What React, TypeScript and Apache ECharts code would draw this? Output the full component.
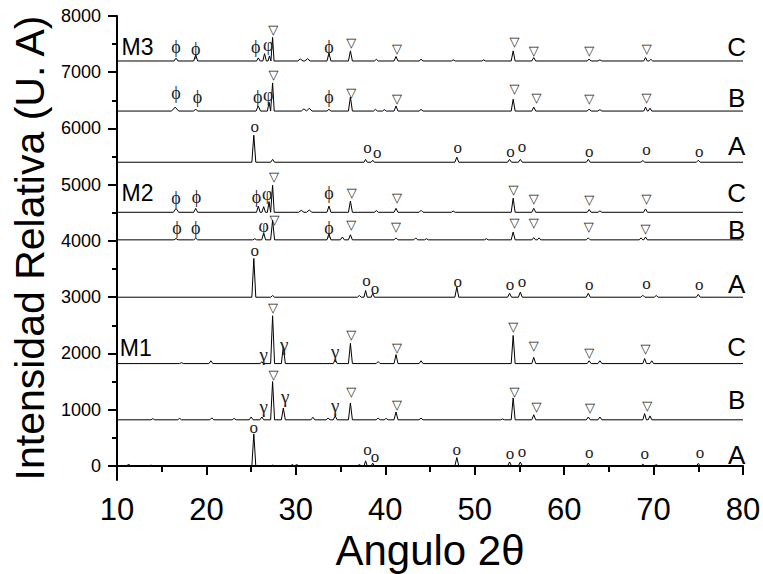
import React, { useEffect, useRef } from "react";
import * as echarts from "echarts";

// ---- axis ticks ----
const yTickValues = [0, 1000, 2000, 3000, 4000, 5000, 6000, 7000, 8000];
const yMinorValues = [500, 1500, 2500, 3500, 4500, 5500, 6500, 7500];

// ---- diffractograms: baseline + peaks [2θ, height above baseline, half width?] ----
type Peak = [number, number] | [number, number, number];

const m1A_base = 0;
const m1A_peaks: Peak[] = [
  [11.3, 35], [13.8, 15], [25.3, 570], [27.4, 15], [29.6, 25], [30.1, 25], [37.1, 25],
  [37.8, 90, 0.18], [38.6, 50, 0.18], [48.0, 150], [53.9, 70], [55.1, 70], [62.7, 50],
  [68.8, 30], [70.3, 25], [75.0, 45],
];

const m1B_base = 820;
const m1B_peaks: Peak[] = [
  [14.0, 20], [17.0, 25], [20.6, 35], [23.1, 25], [25.0, 50], [26.2, 50], [27.4, 680],
  [28.6, 210], [31.9, 45], [33.6, 30], [34.4, 70], [36.1, 300], [39.2, 30], [40.1, 25],
  [41.2, 140], [44.0, 30], [53.1, 15], [54.3, 390], [56.6, 90], [62.7, 50], [64.0, 50],
  [69.0, 110, 0.2], [69.6, 70, 0.2],
];

const m1C_base = 1820;
const m1C_peaks: Peak[] = [
  [17.2, 15], [20.5, 50], [26.2, 30], [27.4, 850], [28.6, 300], [34.4, 70], [36.1, 360],
  [39.2, 35], [41.2, 160], [44.0, 50], [54.3, 500], [56.6, 110], [62.8, 50], [64.0, 50],
  [69.0, 90, 0.2], [69.8, 50, 0.2],
];

const m2A_base = 3000;
const m2A_peaks: Peak[] = [
  [25.3, 690], [27.4, 30], [37.1, 30], [37.8, 120, 0.18], [38.6, 70, 0.18], [48.0, 180],
  [53.9, 70], [55.1, 90], [62.7, 70], [68.8, 35], [70.3, 30], [75.0, 50],
];

const m2B_base = 4020;
const m2B_peaks: Peak[] = [
  [16.6, 25], [18.8, 30], [25.4, 20], [26.4, 120], [27.4, 350], [33.7, 110], [35.2, 50],
  [36.1, 90], [41.2, 35], [43.4, 35], [44.6, 20], [51.3, 20], [54.3, 140], [56.6, 40, 0.2],
  [57.2, 35, 0.2], [62.7, 35], [68.6, 35, 0.2], [69.1, 50, 0.2],
];

const m2C_base = 4510;
const m2C_peaks: Peak[] = [
  [16.6, 70, 0.3], [18.8, 70], [25.8, 110, 0.2], [26.4, 100, 0.2], [27.0, 190, 0.18],
  [27.4, 480, 0.18], [30.6, 35, 0.3], [31.5, 40, 0.3], [33.7, 110], [36.1, 200], [39.0, 30],
  [41.2, 70], [44.0, 35], [47.6, 20], [54.3, 250], [56.6, 70], [62.8, 50], [64.0, 25],
  [69.1, 60],
];

const m3A_base = 5400;
const m3A_peaks: Peak[] = [
  [25.3, 480], [27.4, 50], [37.8, 50, 0.18], [38.6, 35, 0.18], [48.0, 90], [53.9, 50],
  [55.1, 50], [62.7, 50], [68.8, 30], [75.0, 35],
];

const m3B_base = 6310;
const m3B_peaks: Peak[] = [
  [16.5, 70, 0.4], [18.8, 35], [25.8, 90, 0.25], [27.0, 160, 0.18], [27.4, 500, 0.18],
  [30.9, 40, 0.3], [31.5, 50, 0.3], [33.7, 30], [36.1, 250], [38.9, 30], [39.9, 25],
  [41.2, 90], [44.0, 30], [54.3, 210], [56.6, 70], [62.8, 35], [64.0, 25], [69.1, 70, 0.2],
  [69.6, 50, 0.2],
];

const m3C_base = 7200;
const m3C_peaks: Peak[] = [
  [16.6, 50], [18.8, 110], [25.8, 55, 0.2], [26.5, 130, 0.2], [27.05, 90, 0.16],
  [27.4, 420, 0.16], [30.5, 35, 0.3], [31.3, 40, 0.3], [33.7, 140], [36.1, 180], [39.0, 30],
  [41.2, 80], [44.0, 30], [47.6, 20], [51.0, 20], [54.3, 180], [56.6, 60], [62.8, 35],
  [64.0, 20], [69.1, 60, 0.2], [69.7, 30, 0.2],
];

// ---- phase markers [2θ, intensity position] ----
const anataseMarks: [number, number][] = [
  [25.4, 6027], [38.0, 5654], [39.1, 5570], [48.1, 5654], [54.0, 5583], [55.3, 5672],
  [62.8, 5583], [69.2, 5618], [75.1, 5583],
  [25.4, 3823], [37.9, 3300], [38.85, 3150], [48.1, 3272], [53.95, 3218], [55.3, 3272],
  [62.8, 3218], [69.2, 3236], [75.1, 3218],
  [25.3, 676], [38.0, 284], [38.85, 160], [48.0, 284], [53.95, 213], [55.3, 249],
  [62.8, 231], [69.0, 213], [75.2, 231],
];

const rutileMarks: [number, number][] = [
  [27.48, 7752], [36.2, 7520], [41.3, 7414], [54.45, 7539], [56.6, 7379], [62.8, 7379], [69.25, 7414],
  [27.5, 6952], [36.2, 6632], [41.3, 6525], [54.45, 6703], [56.9, 6543], [62.8, 6525], [69.2, 6543],
  [27.55, 5138], [36.25, 4854], [41.3, 4765], [54.35, 4907], [56.6, 4747], [62.8, 4729], [69.2, 4747],
  [27.6, 4374], [36.2, 4285], [41.2, 4250], [54.45, 4320], [56.6, 4320], [62.75, 4250], [69.1, 4214],
  [27.45, 2809], [36.2, 2329], [41.3, 2098], [54.3, 2471], [56.6, 2134], [62.8, 2009], [69.1, 2080],
  [27.5, 1618], [36.2, 1316], [41.3, 1085], [54.45, 1316], [56.9, 1049], [62.9, 1031], [69.3, 1067],
];

const gammaMarks: [number, number][] = [
  [26.4, 1973], [28.7, 2151], [34.4, 2027],
  [26.4, 1049], [28.8, 1227], [34.4, 1067],
];

const phiMarks: [number, number][] = [
  [16.6, 7450], [18.8, 7414], [25.5, 7450], [33.7, 7450],
  [16.6, 6632], [19.0, 6561], [25.75, 6561], [33.7, 6561],
  [16.6, 4765], [18.9, 4783], [25.6, 4783], [33.7, 4854],
  [16.7, 4232], [18.8, 4232], [33.7, 4232],
];

const phiCurlMarks: [number, number][] = [
  [26.9, 7485], [26.9, 6596], [26.8, 4836], [26.4, 4267],
];

// ---- sample labels [2θ, intensity position, text] ----
const groupLabels: [number, number, string][] = [
  [12.3, 7450, "M3"], [12.3, 4854, "M2"], [12.1, 2098, "M1"],
];
const sampleLabels: [number, number, string][] = [
  [79.3, 7450, "C"], [79.3, 6540, "B"], [79.3, 5690, "A"],
  [79.3, 4855, "C"], [79.3, 4195, "B"], [79.3, 3240, "A"],
  [79.3, 2116, "C"], [79.3, 1173, "B"], [79.3, 195, "A"],
];

const traces: [string, number, Peak[]][] = [
  ["M1 A", m1A_base, m1A_peaks], ["M1 B", m1B_base, m1B_peaks], ["M1 C", m1C_base, m1C_peaks],
  ["M2 A", m2A_base, m2A_peaks], ["M2 B", m2B_base, m2B_peaks], ["M2 C", m2C_base, m2C_peaks],
  ["M3 A", m3A_base, m3A_peaks], ["M3 B", m3B_base, m3B_peaks], ["M3 C", m3C_base, m3C_peaks],
];

function buildTrace(base: number, peaks: Peak[]): [number, number][] {
  const pts: [number, number][] = [[10, base]];
  const sorted = [...peaks].sort((a, b) => a[0] - b[0]);
  for (const pk of sorted) {
    const p = pk[0];
    const h = pk[1];
    const w = pk.length > 2 ? (pk[2] as number) : 0.22;
    pts.push([p - w, base], [p, base + h], [p + w, base]);
  }
  pts.push([80, base]);
  return pts;
}

const SERIF = "'Liberation Serif', 'DejaVu Serif', serif";
const SANS = "'Liberation Sans', Arial, sans-serif";

function textLayer(name: string, data: any[], textOf: (d: any) => string, size: number, family: string, fill = "#000") {
  return {
    name,
    type: "custom",
    data,
    silent: true,
    clip: false,
    z: 5,
    encode: { x: 0, y: 1 },
    renderItem: (params: any, api: any) => {
      const pt = api.coord([api.value(0), api.value(1)]);
      return {
        type: "text",
        x: pt[0],
        y: pt[1],
        style: {
          text: textOf(data[params.dataIndex]),
          fill,
          fontSize: size,
          fontFamily: family,
          align: "center",
          verticalAlign: "middle",
        },
      };
    },
  };
}

export default function App() {
  const ref = useRef<HTMLDivElement>(null);
  useEffect(() => {
    if (!ref.current) return;
    const chart = echarts.init(ref.current, null, { renderer: "svg" });
    const lineSeries = traces.map(([name, base, peaks]) => ({
      name,
      type: "line",
      data: buildTrace(base, peaks),
      symbol: "none",
      lineStyle: { color: "#000", width: 1 },
      z: 3,
    }));
    chart.setOption({
      animation: false,
      backgroundColor: "#fff",
      grid: { left: 117, right: 20, top: 16, bottom: 94, outerBoundsMode: "none", containLabel: false },
      xAxis: {
        type: "value",
        min: 10,
        max: 80,
        interval: 10,
        name: "Angulo 2θ",
        nameLocation: "middle",
        nameGap: 48,
        nameTextStyle: { fontSize: 42, fontFamily: SANS, color: "#000" },
        axisLine: { show: true, lineStyle: { color: "#000", width: 2 } },
        axisTick: { show: true, inside: false, length: 9, lineStyle: { color: "#000", width: 2 } },
        minorTick: { show: true, splitNumber: 2, length: 6, lineStyle: { color: "#000", width: 2 } },
        axisLabel: { fontSize: 31, fontFamily: SANS, color: "#000", margin: 14 },
        splitLine: { show: false },
        minorSplitLine: { show: false },
      },
      yAxis: [
        {
          type: "value",
          min: -250,
          max: 8000,
          name: "Intensidad Relativa (U. A)",
          nameLocation: "middle",
          nameGap: 66,
          nameRotate: 90,
          nameTextStyle: { fontSize: 41, fontFamily: SANS, color: "#000" },
          axisLine: { show: true, lineStyle: { color: "#000", width: 2 } },
          axisTick: {
            show: true,
            inside: false,
            length: 9,
            customValues: yTickValues,
            lineStyle: { color: "#000", width: 2 },
          },
          axisLabel: {
            fontSize: 18,
            fontFamily: SANS,
            color: "#000",
            margin: 16,
            customValues: yTickValues,
            formatter: (v: number) => String(v),
          },
          splitLine: { show: false },
        },
        {
          type: "value",
          min: -250,
          max: 8000,
          position: "left",
          axisLine: { show: false },
          axisTick: {
            show: true,
            inside: false,
            length: 5,
            customValues: yMinorValues,
            lineStyle: { color: "#000", width: 2 },
          },
          axisLabel: { show: false },
          splitLine: { show: false },
        },
      ],
      series: [
        ...lineSeries,
        textLayer("anatase", anataseMarks, () => "o", 17, SERIF, "#222"),
        textLayer("rutile", rutileMarks, () => "▽", 13, "'DejaVu Sans', sans-serif", "#222"),
        textLayer("gamma", gammaMarks, () => "γ", 19, SERIF, "#222"),
        textLayer("phi", phiMarks, () => "ϕ", 18, SERIF, "#222"),
        textLayer("phi2", phiCurlMarks, () => "φ", 18, SERIF, "#222"),
        textLayer("groups", groupLabels, (d) => d[2], 23, SANS),
        textLayer("samples", sampleLabels, (d) => d[2], 26, SANS),
      ],
    });
    return () => chart.dispose();
  }, []);
  return <div ref={ref} style={{ width: 763, height: 574, position: "absolute", left: 0, top: 0 }} />;
}
